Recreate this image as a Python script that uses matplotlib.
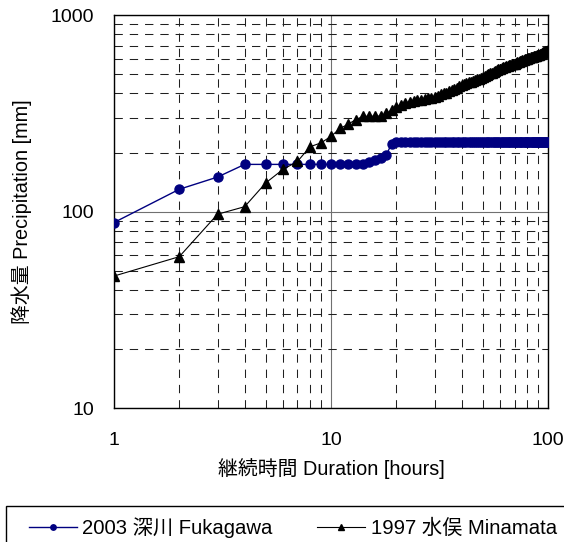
import matplotlib
matplotlib.use("Agg")
import matplotlib.pyplot as plt
from matplotlib.patches import Rectangle
from matplotlib.ticker import FixedLocator, NullFormatter, FixedFormatter

plt.rcParams['font.family'] = ['Liberation Sans', 'Noto Sans CJK JP', 'DejaVu Sans']
plt.rcParams['lines.scale_dashes'] = False

hours = list(range(1, 101))

# 2003 深川 Fukagawa (mm)
fukagawa = [88, 130, 150, 174, 174, 174, 174, 174, 174, 174,
            174, 174, 174, 175, 178, 183, 188, 195, 222, 225] + [227] * 80

# 1997 水俣 Minamata (mm)
minamata = [47, 59, 97, 106, 140, 164, 180, 214, 224, 242,
            265, 279, 294, 305, 306, 306, 307, 316, 329, 341,
            350, 358, 362, 366, 370, 372, 374, 378, 381, 384,
            390, 396, 400, 404, 410, 415, 422, 428, 434, 440,
            444, 450, 455, 458, 462, 468, 472, 476, 480, 485,
            490, 496, 500, 505, 508, 512, 518, 524, 530, 535,
            538, 542, 546, 550, 552, 555, 558, 561, 564, 567,
            572, 576, 580, 583, 586, 589, 592, 595, 598, 601,
            604, 607, 610, 612, 614, 617, 620, 622, 624, 626,
            630, 634, 638, 642, 646, 650, 654, 658, 661, 664]

x_ticks = [1, 10, 100]
y_ticks = [10, 100, 1000]

fig = plt.figure(figsize=(5.64, 5.42), dpi=100)
ax = fig.add_axes([0.202, 0.247, 0.770, 0.725])

ax.set_xscale("log")
ax.set_yscale("log")
ax.set_xlim(1, 100)
ax.set_ylim(10, 1000)

# grid: major solid grey, minor dashed black
ax.grid(True, which="major", color="#707070", linestyle="-", linewidth=0.8)
ax.grid(True, which="minor", color="#202020", linestyle=(0, (6, 5)), linewidth=0.75)
ax.set_axisbelow(True)

ax.plot(hours, fukagawa, color="#000080", marker="o", markersize=6.5,
        linewidth=1.0, label="2003 深川 Fukagawa", zorder=3)
ax.plot(hours, minamata, color="black", marker="^", markersize=7.5,
        linewidth=0.8, label="1997 水俣 Minamata", zorder=4)

ax.xaxis.set_major_locator(FixedLocator(x_ticks))
ax.xaxis.set_major_formatter(FixedFormatter([str(v) for v in x_ticks]))
ax.yaxis.set_major_locator(FixedLocator(y_ticks))
ax.yaxis.set_major_formatter(FixedFormatter([str(v) for v in y_ticks]))
ax.xaxis.set_minor_formatter(NullFormatter())
ax.yaxis.set_minor_formatter(NullFormatter())
ax.tick_params(which="both", length=0, labelsize=14)
ax.tick_params(axis="x", pad=17)
ax.tick_params(axis="y", pad=14)

for s in ax.spines.values():
    s.set_color("black")
    s.set_linewidth(1.0)

ax.set_xlabel("継続時間 Duration [hours]", fontsize=14.3, labelpad=7)
ax.set_ylabel("降水量 Precipitation [mm]", fontsize=14.3, labelpad=14)

# legend box (runs off the right and bottom edge like the original)
fig.patches.append(Rectangle((6 / 564, -0.1), 1.0, 0.1 + 1 - 505.5 / 542,
                             transform=fig.transFigure, facecolor="white",
                             edgecolor="black", linewidth=1.0, clip_on=False))

leg = fig.legend(loc="upper left", bbox_to_anchor=(29 / 564, 1 - 517 / 542),
                 ncol=2, fontsize=14.6, frameon=False, markerscale=0.6,
                 handlelength=2.35, handletextpad=0.28, columnspacing=2.2,
                 borderpad=0, borderaxespad=0)

fig.savefig("out.png", dpi=100)
